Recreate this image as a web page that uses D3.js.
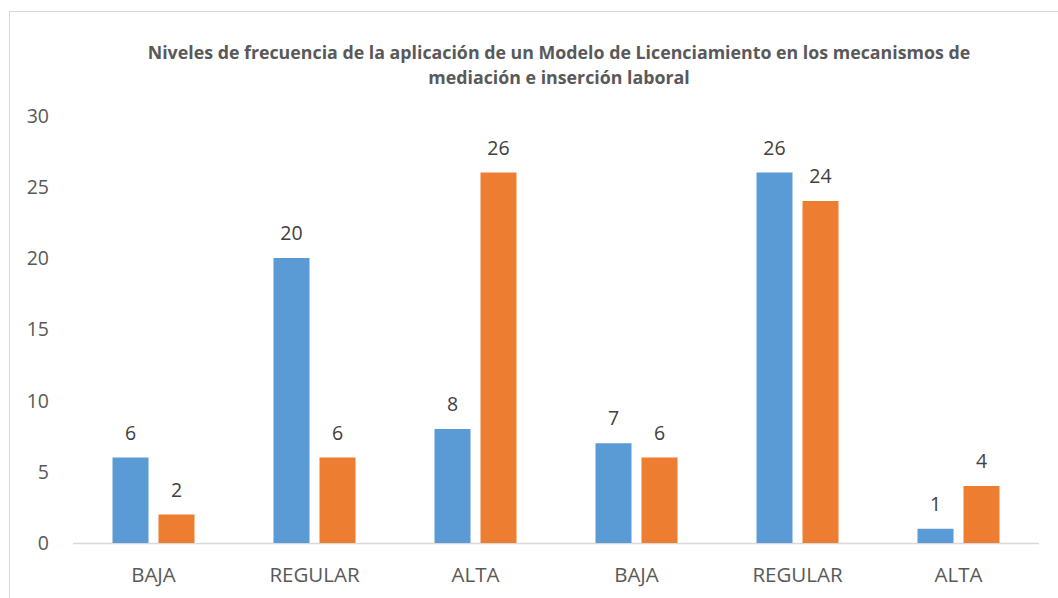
<!DOCTYPE html>
<html><head><meta charset="utf-8">
<script src="https://cdn.jsdelivr.net/npm/d3@7"></script>
<style>body{margin:0;background:#fff}</style>
</head><body>
<svg id="c" width="1058" height="598"></svg>
<script>
const categories = ["BAJA","REGULAR","ALTA","BAJA","REGULAR","ALTA"];
const series1 = [6,20,8,7,26,1];
const series2 = [2,6,26,6,24,4];
const yTicks = [0,5,10,15,20,25,30];
const titleLines = ["Niveles de frecuencia de la aplicación de un Modelo de Licenciamiento en los mecanismos de","mediación e inserción laboral"];

const svg = d3.select("#c");
const colors = ["#5B9BD5","#ED7D31"];
const font = "'Open Sans', 'Liberation Sans', sans-serif";

svg.append("rect").attr("x",9.5).attr("y",11.5).attr("width",1100).attr("height",700)
  .attr("fill","#fff").attr("stroke","#d9d9d9");

const x = d3.scaleBand().domain(d3.range(categories.length)).range([73,1039]).padding(0);
const y = d3.scaleLinear().domain([0,30]).range([543,115.5]);
const inner = d3.scaleBand().domain([0,1]).paddingInner(0.2174).paddingOuter(0);

svg.selectAll(".t").data(titleLines).enter().append("text")
  .attr("x",559).attr("y",(d,i)=>59+i*25).attr("text-anchor","middle")
  .attr("font-family",font).attr("font-weight","bold").attr("font-size",17.8)
  .attr("fill","#595959").text(d=>d);

// y labels
svg.selectAll(".yt").data(yTicks).enter().append("text")
  .attr("x",49).attr("y",d=>y(d)).attr("dy","0.36em").attr("text-anchor","end")
  .attr("font-family",font).attr("font-size",19.5).attr("fill","#595959").text(d=>d);

// axis line
svg.append("line").attr("x1",73).attr("x2",1039).attr("y1",543.5).attr("y2",543.5)
  .attr("stroke","#d9d9d9").attr("stroke-width",1.3);

const data = categories.map((c,i)=>({c,i,v:[series1[i],series2[i]]}));
const g = svg.selectAll(".g").data(data).enter().append("g");
g.each(function(d){
  const cx = x(d.i)+x.bandwidth()/2;
  inner.range([cx-41,cx+41]);
  const sel = d3.select(this);
  d.v.forEach((v,k)=>{
    sel.append("rect").attr("x",inner(k)).attr("width",inner.bandwidth())
      .attr("y",y(v)).attr("height",y(0)-y(v)).attr("fill",colors[k]);
    sel.append("text").attr("x",inner(k)+inner.bandwidth()/2).attr("y",y(v)-18)
      .attr("text-anchor","middle").attr("font-family",font).attr("font-size",19.5)
      .attr("fill","#404040").text(v);
  });
  sel.append("text").attr("x",cx).attr("y",575).attr("dy","0.36em").attr("text-anchor","middle")
    .attr("font-family",font).attr("font-size",20.5).attr("fill","#595959").text(d.c);
});
</script>
</body></html>
